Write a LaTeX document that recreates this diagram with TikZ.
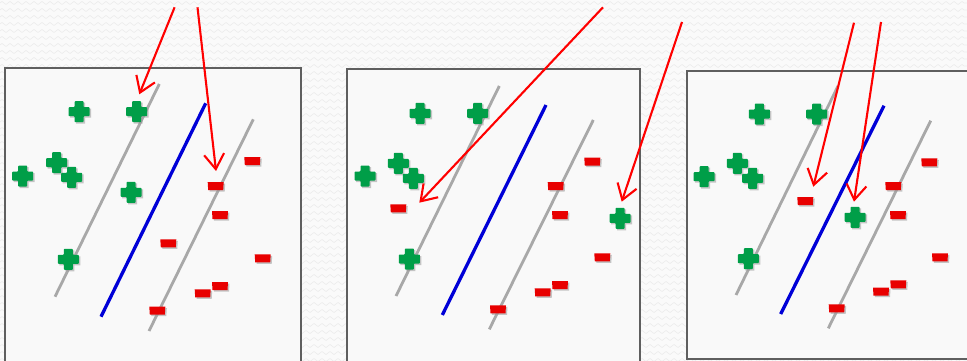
\documentclass[tikz,border=0pt]{standalone}
\usetikzlibrary{arrows.meta,decorations.pathmorphing}
\definecolor{pgreen}{RGB}{0,158,72}
\definecolor{mred}{RGB}{232,0,0}
\definecolor{sblue}{RGB}{0,0,215}
\definecolor{mgray}{RGB}{168,168,168}
\definecolor{bgc}{RGB}{250,250,250}
\definecolor{zig}{RGB}{236,236,236}
\definecolor{panelc}{RGB}{249,249,249}
\definecolor{borderc}{RGB}{95,95,95}
\tikzset{
  panel/.style={fill=panelc,draw=borderc,line width=1.3pt},
  margin/.style={mgray,line width=2.8pt},
  hyper/.style={sblue,line width=3.3pt},
  callout/.style={red,line width=2.1pt,-{Straight Barb[length=15pt,width=20pt,line width=2.1pt]}},
  plusmk/.pic={
    \fill[black!40,opacity=.55,shift={(1.5,1.5)}] (-4.5,-10.5) -- (4.5,-10.5) -- (4.5,-4.5) -- (10.5,-4.5) -- (10.5,4.5) -- (4.5,4.5) -- (4.5,10.5) -- (-4.5,10.5) -- (-4.5,4.5) -- (-10.5,4.5) -- (-10.5,-4.5) -- (-4.5,-4.5) -- cycle;
    \fill[pgreen,rounded corners=0.8pt] (-4.5,-10.5) -- (4.5,-10.5) -- (4.5,-4.5) -- (10.5,-4.5) -- (10.5,4.5) -- (4.5,4.5) -- (4.5,10.5) -- (-4.5,10.5) -- (-4.5,4.5) -- (-10.5,4.5) -- (-10.5,-4.5) -- (-4.5,-4.5) -- cycle;
  },
  minusmk/.pic={
    \fill[black!40,opacity=.55,shift={(1.5,1.5)}] (-8,-4) -- (8,-4) -- (7.5,4) -- (-7.5,4) -- cycle;
    \fill[mred] (-8,-4) -- (8,-4) -- (7.5,4) -- (-7.5,4) -- cycle;
  }
}
\begin{document}
\begin{tikzpicture}[x=1pt,y=-1pt]
\useasboundingbox (0,0) rectangle (967,361);
% background with faint texture
\fill[bgc] (0,0) rectangle (967,361);
\foreach \r in {3,10,...,361}{
  \draw[zig,line width=0.6pt,decorate,decoration={zigzag,segment length=8pt,amplitude=1.5pt}] (0,\r) -- (967,\r);
}
% panels
\draw[panel] (5,68) rectangle (301,372);
\draw[panel] (347,69) rectangle (640,372);
\draw[panel] (687,71) rectangle (980,359);

% ---------- panel 1 ----------
\draw[margin] (159.3,84) -- (55,296.7);
\draw[margin] (253.3,119.3) -- (149,331);
\draw[hyper] (205.7,103.3) -- (101,316.7);
\foreach \p in {(79,111.7),(136.7,111.7),(56.7,162.7),(71.7,177.3),(22.7,176),(131,192.3),(68.3,259.3)}
  \pic at \p {plusmk};
\foreach \p in {(252.3,161),(215.7,186),(220,215),(168.3,243.3),(262.7,258.3),(202.7,293.3),(220,286),(157.3,310.7)}
  \pic at \p {minusmk};

% ---------- panel 2 ----------
\draw[margin] (499.3,86) -- (396,296);
\draw[margin] (593.3,120) -- (489.3,329.3);
\draw[hyper] (546,105) -- (442.3,315);
\foreach \p in {(420,113.3),(477.7,113.3),(398.3,163.3),(413.3,178.3),(365,176),(409.3,259),(620,218.3)}
  \pic at \p {plusmk};
\foreach \p in {(398.3,208.3),(592.3,161.7),(555.7,186),(560,215),(602.3,257.3),(542.7,292.3),(560,285),(498,309.3)}
  \pic at \p {minusmk};

% ---------- panel 3 ----------
\draw[margin] (838,86) -- (736,295);
\draw[margin] (930.7,120.7) -- (828.3,328.3);
\draw[hyper] (884,105.7) -- (780.7,314);
\foreach \p in {(759.3,114),(816.7,114),(737.3,163.3),(752.7,178.3),(704,176.7),(748.3,258.7),(855,217.3)}
  \pic at \p {plusmk};
\foreach \p in {(805.3,201),(929.3,162.3),(893.3,186),(898,215),(940,257.3),(881,291.7),(898.3,284.3),(836.7,308.3)}
  \pic at \p {minusmk};

% ---------- callout arrows ----------
\coordinate (s1) at (174.6,7.3);  \coordinate (t1) at (139.3,94.3);
\coordinate (s2) at (197.5,7.3);  \coordinate (t2) at (216,171);
\coordinate (s3) at (603,7.3);    \coordinate (t3) at (419.3,202.7);
\coordinate (s4) at (682,22);     \coordinate (t4) at (621.7,201.7);
\coordinate (s5) at (854,22.7);   \coordinate (t5) at (813.3,186.7);
\coordinate (s6) at (881,22);     \coordinate (t6) at (854,201.7);
\foreach \i in {1,...,6}
  \draw[callout] (s\i) -- (t\i);
\end{tikzpicture}
\end{document}
